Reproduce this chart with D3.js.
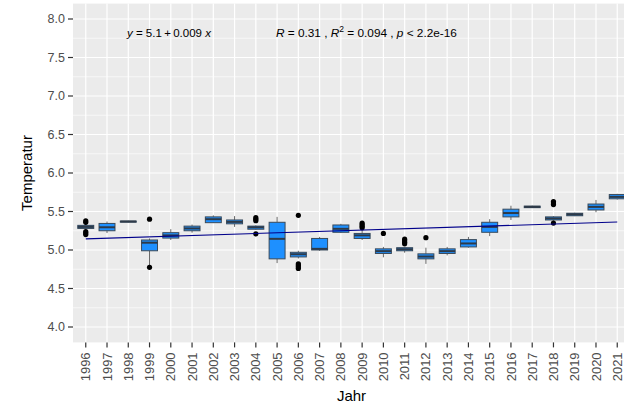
<!DOCTYPE html>
<html>
<head>
<meta charset="utf-8">
<script src="https://cdn.jsdelivr.net/npm/d3@7"></script>
<style>
  html, body { margin: 0; padding: 0; background: #ffffff; overflow: hidden; }
  svg { display: block; font-family: "Liberation Sans", Arial, sans-serif; }
</style>
</head>
<body>
<div id="chart"></div>
<script>
// Data
const years = ["1996", "1997", "1998", "1999", "2000", "2001", "2002", "2003", "2004", "2005",
    "2006", "2007", "2008", "2009", "2010", "2011", "2012", "2013", "2014", "2015",
    "2016", "2017", "2018", "2019", "2020", "2021"];
const whiskerLow = [5.26, 5.22, 5.36, 4.80, 5.13, 5.225, 5.35, 5.30, 5.26, 4.83,
    4.89, 4.99, 5.22, 5.13, 4.905, 4.965, 4.82, 4.93, 5.03, 5.18,
    5.39, 5.545, 5.38, 5.44, 5.49, 5.655];
const q1 = [5.28, 5.25, 5.365, 4.99, 5.155, 5.25, 5.355, 5.34, 5.27, 4.885,
    4.91, 5.0, 5.23, 5.15, 4.955, 4.99, 4.885, 4.955, 5.04, 5.23,
    5.43, 5.55, 5.39, 5.445, 5.52, 5.665];
const median = [5.30, 5.295, 5.37, 5.095, 5.19, 5.28, 5.40, 5.365, 5.295, 5.145,
    4.945, 5.015, 5.275, 5.19, 4.985, 5.01, 4.915, 4.985, 5.085, 5.30,
    5.48, 5.56, 5.41, 5.463, 5.56, 5.69];
const q3 = [5.32, 5.345, 5.375, 5.13, 5.225, 5.31, 5.43, 5.39, 5.31, 5.36,
    4.97, 5.15, 5.325, 5.215, 5.015, 5.03, 4.95, 5.015, 5.135, 5.36,
    5.53, 5.57, 5.43, 5.477, 5.597, 5.72];
const whiskerHigh = [5.34, 5.37, 5.38, 5.15, 5.27, 5.33, 5.45, 5.44, 5.32, 5.43,
    4.99, 5.17, 5.34, 5.26, 5.04, 5.04, 5.03, 5.04, 5.17, 5.40,
    5.575, 5.575, 5.44, 5.485, 5.65, 5.73];
const outliers = [
    [5.20, 5.22, 5.24, 5.36, 5.38], [], [], [4.775, 5.40], [], [], [], [], [5.21, 5.38, 5.40, 5.42], [],
    [4.76, 4.78, 4.80, 4.82, 5.45], [], [], [5.29, 5.31, 5.33, 5.35], [5.215], [5.08, 5.10, 5.12, 5.14], [5.16], [], [], [],
    [], [], [5.35, 5.59, 5.61, 5.63], [], [], []
];
const regLine = [{ year: "1996", value: 5.144 }, { year: "2021", value: 5.364 }];
const yTicks = [4.0, 4.5, 5.0, 5.5, 6.0, 6.5, 7.0, 7.5, 8.0];
const yMinor = [4.25, 4.75, 5.25, 5.75, 6.25, 6.75, 7.25, 7.75];

const width = 624;
const height = 404;
const panel = { left: 73, top: 3.6, right: 630, bottom: 342.4 };

const svg = d3.select("#chart").append("svg")
    .attr("width", width)
    .attr("height", height);

// ggplot discrete expansion: 0.6 units each side
const x = d3.scalePoint()
    .domain(years)
    .range([panel.left, panel.right])
    .padding(0.6);
const xc = d => x(d);

const y = d3.scaleLinear()
    .domain([3.8, 8.2])
    .range([panel.bottom, panel.top]);

// Panel background
svg.append("rect")
    .attr("x", panel.left)
    .attr("y", panel.top)
    .attr("width", panel.right - panel.left)
    .attr("height", panel.bottom - panel.top)
    .attr("fill", "#ebebeb");

// Grid
const grid = svg.append("g");
grid.selectAll("line.minor")
    .data(yMinor)
    .enter().append("line")
    .attr("x1", panel.left).attr("x2", panel.right)
    .attr("y1", d => y(d)).attr("y2", d => y(d))
    .attr("stroke", "#ffffff").attr("stroke-width", 0.6);
grid.selectAll("line.major")
    .data(yTicks)
    .enter().append("line")
    .attr("x1", panel.left).attr("x2", panel.right)
    .attr("y1", d => y(d)).attr("y2", d => y(d))
    .attr("stroke", "#ffffff").attr("stroke-width", 1.2);
grid.selectAll("line.vmajor")
    .data(years)
    .enter().append("line")
    .attr("x1", d => xc(d)).attr("x2", d => xc(d))
    .attr("y1", panel.top).attr("y2", panel.bottom)
    .attr("stroke", "#ffffff").attr("stroke-width", 1.2);

// Boxes
const boxW = x.step() * 0.75;
const boxData = years.map((yr, i) => ({
    year: yr, lo: whiskerLow[i], q1: q1[i], med: median[i], q3: q3[i], hi: whiskerHigh[i], out: outliers[i]
}));

const boxes = svg.append("g").selectAll("g")
    .data(boxData)
    .enter().append("g");

boxes.append("line")
    .attr("x1", d => xc(d.year)).attr("x2", d => xc(d.year))
    .attr("y1", d => y(d.hi)).attr("y2", d => y(d.q3))
    .attr("stroke", "#666666").attr("stroke-width", 1);
boxes.append("line")
    .attr("x1", d => xc(d.year)).attr("x2", d => xc(d.year))
    .attr("y1", d => y(d.q1)).attr("y2", d => y(d.lo))
    .attr("stroke", "#666666").attr("stroke-width", 1);
boxes.append("rect")
    .attr("x", d => xc(d.year) - boxW / 2)
    .attr("y", d => y(d.q3))
    .attr("width", boxW)
    .attr("height", d => Math.max(y(d.q1) - y(d.q3), 1))
    .attr("fill", "#1e90ff")
    .attr("stroke", "#3a4a5a")
    .attr("stroke-width", 1);
boxes.append("line")
    .attr("x1", d => xc(d.year) - boxW / 2).attr("x2", d => xc(d.year) + boxW / 2)
    .attr("y1", d => y(d.med)).attr("y2", d => y(d.med))
    .attr("stroke", "#2e3a48").attr("stroke-width", 2);
boxes.selectAll("circle")
    .data(d => d.out.map(v => ({ year: d.year, v })))
    .enter().append("circle")
    .attr("cx", d => xc(d.year))
    .attr("cy", d => y(d.v))
    .attr("r", 2.6)
    .attr("fill", "#000000");

// Regression line
svg.append("line")
    .attr("x1", xc(regLine[0].year)).attr("y1", y(regLine[0].value))
    .attr("x2", xc(regLine[1].year)).attr("y2", y(regLine[1].value))
    .attr("stroke", "#00008b").attr("stroke-width", 1.1);

// Axes
const axisColor = "#4d4d4d";
const yAxis = svg.append("g");
yAxis.selectAll("line")
    .data(yTicks)
    .enter().append("line")
    .attr("x1", panel.left - 5).attr("x2", panel.left)
    .attr("y1", d => y(d)).attr("y2", d => y(d))
    .attr("stroke", "#333333").attr("stroke-width", 1.2);
yAxis.selectAll("text")
    .data(yTicks)
    .enter().append("text")
    .attr("x", panel.left - 8)
    .attr("y", d => y(d))
    .attr("dy", "0.35em")
    .attr("text-anchor", "end")
    .attr("font-size", 12.5)
    .attr("fill", axisColor)
    .text(d => d3.format(".1f")(d));

const xAxis = svg.append("g");
xAxis.selectAll("line")
    .data(years)
    .enter().append("line")
    .attr("x1", d => xc(d)).attr("x2", d => xc(d))
    .attr("y1", panel.bottom).attr("y2", panel.bottom + 5)
    .attr("stroke", "#333333").attr("stroke-width", 1.2);
xAxis.selectAll("text")
    .data(years)
    .enter().append("text")
    .attr("transform", d => `translate(${xc(d)},${panel.bottom + 10}) rotate(-90)`)
    .attr("dy", "0.35em")
    .attr("text-anchor", "end")
    .attr("font-size", 13)
    .attr("fill", axisColor)
    .text(d => d);

svg.append("text")
    .attr("x", (panel.left + panel.right) / 2)
    .attr("y", 401)
    .attr("text-anchor", "middle")
    .attr("font-size", 15)
    .attr("fill", "#000000")
    .text("Jahr");

svg.append("text")
    .attr("transform", `translate(32,${(panel.top + panel.bottom) / 2}) rotate(-90)`)
    .attr("text-anchor", "middle")
    .attr("font-size", 15)
    .attr("fill", "#000000")
    .text("Temperatur");

// Annotations
const eq = svg.append("text")
    .attr("x", 127).attr("y", 37)
    .attr("font-size", 11.5)
    .attr("fill", "#000000");
eq.append("tspan").attr("font-style", "italic").text("y");
eq.append("tspan").text(" = 5.1\u2009+\u20090.009 ");
eq.append("tspan").attr("font-style", "italic").text("x");

const stat = svg.append("text")
    .attr("x", 276).attr("y", 37)
    .attr("font-size", 11.8)
    .attr("fill", "#000000");
stat.append("tspan").attr("font-style", "italic").text("R");
stat.append("tspan").text(" = 0.31 , ");
stat.append("tspan").attr("font-style", "italic").text("R");
stat.append("tspan").attr("font-size", 8.5).attr("dy", -5).text("2");
stat.append("tspan").attr("dy", 5).text(" = 0.094 , ");
stat.append("tspan").attr("font-style", "italic").text("p");
stat.append("tspan").text(" < 2.2e-16");
</script>
</body>
</html>
